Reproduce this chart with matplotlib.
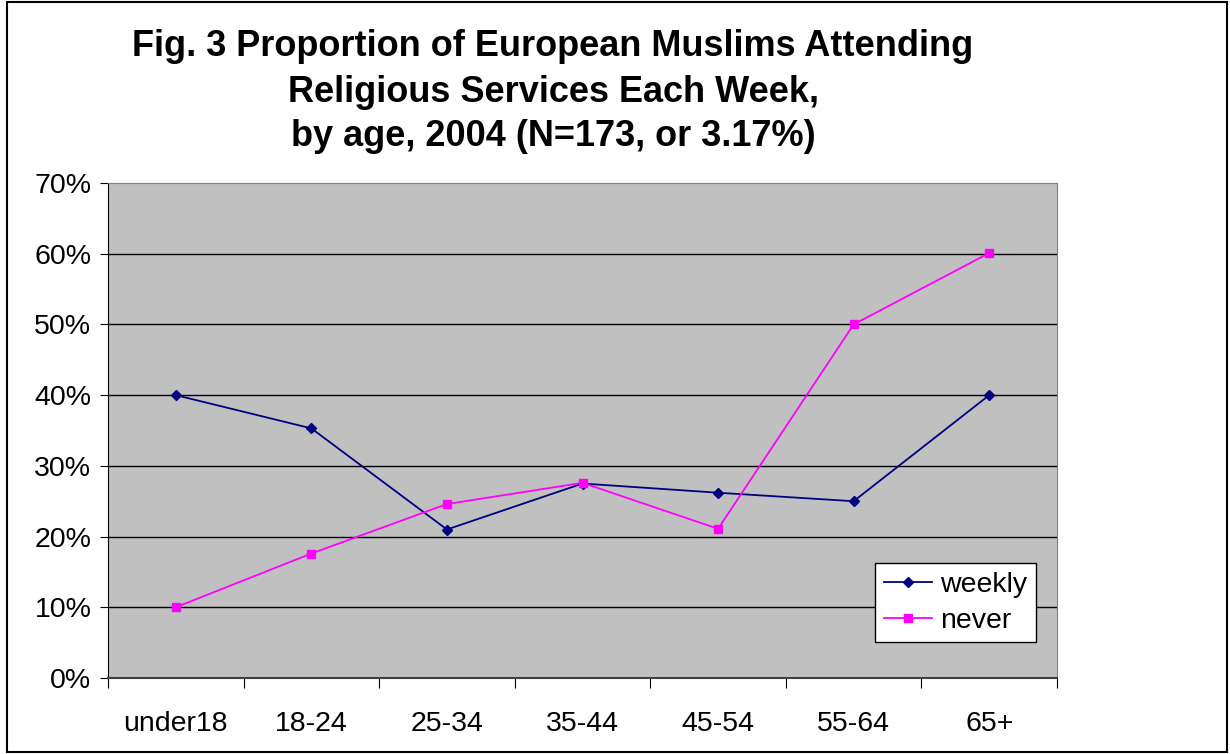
import matplotlib
matplotlib.use("Agg")
import matplotlib.pyplot as plt
import matplotlib.patches as mpatches

plt.rcParams['font.family'] = ['Liberation Sans', 'DejaVu Sans']

categories = ["under18", "18-24", "25-34", "35-44", "45-54", "55-64", "65+"]
weekly = [40.0, 35.3, 21.0, 27.5, 26.2, 25.0, 40.0]
never = [10.0, 17.6, 24.6, 27.6, 21.1, 50.0, 60.1]
yticks = [0, 10, 20, 30, 40, 50, 60, 70]

fig = plt.figure(figsize=(12.3, 7.54), dpi=100, facecolor="white")
ax = fig.add_axes([108/1230, 1 - 678/754, (1057-108)/1230, (678-183)/754])
ax.set_facecolor("#C0C0C0")

x = list(range(len(categories)))
ax.plot(x, weekly, color="#000080", lw=1.3, marker="D", ms=5.5, label="weekly", zorder=3)
ax.plot(x, never, color="#FF00FF", lw=1.3, marker="s", ms=6, label="never", zorder=3)

ax.set_xlim(-0.5, len(categories) - 0.5)
ax.set_ylim(0, 70)
ax.set_yticks(yticks)
ax.set_yticklabels([f"{v}%" for v in yticks], fontsize=20.5)
for v in yticks[1:-1]:
    ax.axhline(v, color="black", lw=1.0, zorder=1)

ax.set_xticks([i - 0.5 for i in range(len(categories) + 1)])
ax.set_xticklabels([])
ax.set_xticks(x, minor=True)
ax.set_xticklabels(categories, minor=True, fontsize=20.5)
ax.tick_params(axis="x", which="minor", length=0, pad=24)
ax.tick_params(axis="x", which="major", length=7, direction="out", color="black")
ax.tick_params(axis="y", length=6, direction="out", color="black", pad=6)

for side in ["top", "right"]:
    ax.spines[side].set_color("#808080")
ax.spines["left"].set_color("black")
ax.spines["bottom"].set_color("#404040")
ax.spines["bottom"].set_linewidth(1.5)

title_lines = ["Fig. 3 Proportion of European Muslims Attending",
               "Religious Services Each Week,",
               "by age, 2004 (N=173, or 3.17%)"]
for line, ypix in zip(title_lines, [47, 92, 137]):
    fig.text(553/1230, 1 - ypix/754, line, ha="center", va="center",
             fontsize=26, fontweight="bold")

leg = ax.legend(loc="upper left", bbox_to_anchor=(875/1230, 1 - 563/754),
                bbox_transform=fig.transFigure, borderaxespad=0, fontsize=20.5,
                frameon=True, fancybox=False, edgecolor="black", framealpha=1,
                handlelength=1.7, borderpad=0.3, labelspacing=0.35, handletextpad=0.3)
leg.get_frame().set_linewidth(1.0)

fig.patches.append(mpatches.Rectangle((7/1230, 2/754), 1220/1230, 750/754,
                                      transform=fig.transFigure, fill=False,
                                      edgecolor="black", lw=1.5))

fig.savefig("out.png", dpi=100, facecolor="white")
